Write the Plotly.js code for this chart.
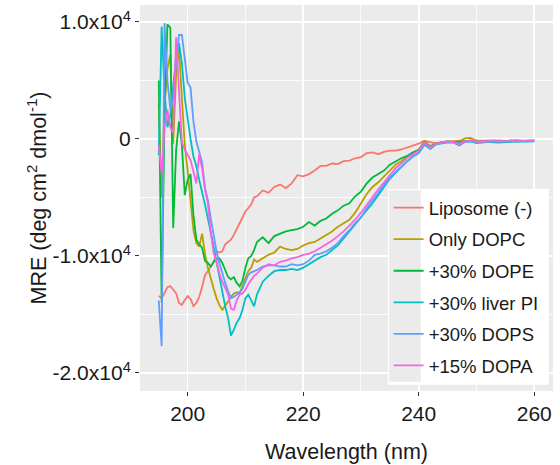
<!DOCTYPE html>
<html>
<head>
<meta charset="utf-8">
<script src="https://cdn.plot.ly/plotly-3.0.1.min.js"></script>
<style>
  html, body { margin: 0; padding: 0; background: #ffffff; }
  #chart { width: 560px; height: 465px; }
</style>
</head>
<body>
<div id="chart"></div>
<script>
// CD spectra: mean residue ellipticity vs wavelength for each liposome condition
const wavelength = [
  195, 195.5, 196, 196.5, 197, 197.5, 198, 198.5, 199, 199.5,
  200, 200.5, 201, 201.5, 202, 202.5, 203, 203.5, 204, 204.5,
  205, 205.5, 206, 206.5, 207, 207.5, 208, 208.5, 209, 209.5,
  210, 210.5, 211, 211.5, 212,
  213, 214, 215, 216, 217, 218, 219, 220, 221, 222,
  223, 224, 225, 226, 227, 228, 229, 230, 231, 232,
  233, 234, 235, 236, 237, 238, 239, 240, 241, 242,
  243, 244, 245,
  246, 247, 248, 249, 250, 251, 252, 253, 254, 255, 256, 257, 258, 259, 260
];

const seriesNames = ['Liposome (-)', 'Only DOPC', '+30% DOPE', '+30% liver PI', '+30% DOPS', '+15% DOPA'];
const seriesColors = ['#F8766D', '#B79F00', '#00BA38', '#00BFC4', '#619CFF', '#F564E3'];

const liposomeNone = [
  -13430, -13600, -13170, -12660, -12570, -12920, -13170, -14020, -14190, -13770,
  -13430, -13680, -14280, -14020, -13510, -12660, -11640, -11300, -10960, -10530,
  -9600, -9700, -9600, -9000, -8800, -8600, -8200, -7700, -7100, -6600,
  -6200, -5900, -5600, -5000, -4900,
  -4400, -4600, -4100, -3900, -4200, -3800, -3100, -3200, -3000, -2700,
  -2300, -2300, -2100, -2150, -1900, -1850, -1650, -1550, -1200, -1150,
  -1300, -1100, -1000, -1000, -900, -750, -550, -400, -150, -250,
  -400, -300, -250,
  -200, -150, -180, -120, -150, -130, -170, -140, -120, -160, -130, -110, -140, -120, -130
];

const onlyDOPC = [
  3000, -5000, 3000, 6000, 7200, -400, 5500, 7800, 3500, -500,
  -2700, -5000, -7800, -8900, -9200, -8100, -9800, -11000, -12000, -12800,
  -13600, -14200, -14600, -14300, -13900, -13500, -13200, -13100, -13200, -12500,
  -11900, -11300, -11000, -10300, -10500,
  -10200, -9900, -9700, -9200, -9400, -9500, -9400, -9100, -8900, -8800,
  -8500, -8200, -7900, -7500, -7200, -6900, -6300, -5500, -4700, -4100,
  -3700, -3200, -2700, -2200, -1900, -1500, -1200, -900, -200, -600,
  -350, -250, -200,
  -250, -200, 50, 100, -150, -200, -180, -150, -200, -170, -150, -180, -160, -150, -140
];

const dope30 = [
  5000, -14000, 2000, 9800, 9500, -7600, -1000, 1500, -500, -4800,
  -3500, -3000, -6500, -8600, -9000, -9300, -10400, -10600, -10900, -10500,
  -10300, -10200, -10600, -11200, -11800, -12000, -11800, -12300, -12600, -12100,
  -11000, -10200, -10000, -9500, -8800,
  -8400, -8900, -8300, -8100, -7900, -7800, -7700, -7500, -7100, -7400,
  -7000, -6800, -6400, -6100, -5700, -5500, -4900, -4500, -3800, -3300,
  -3000, -2700, -2200, -1900, -1650, -1450, -1150, -950, -300, -650,
  -400, -300, -200,
  -250, -300, -200, -150, -250, -280, -220, -200, -250, -230, -200, -210, -180, -190, -170
];

const liverPI30 = [
  -1400, 9600, 4000, 1000, 2000, 4500, 7000, 8200, 6500, 3500,
  1500, 0, -1500, -2300, -3500, -4500, -5600, -6800, -7900, -9200,
  -10500, -11800, -13200, -14300, -15300, -16800, -16300, -15700, -15300, -14600,
  -13600, -13300, -13800, -14300, -13300,
  -12200, -11700, -11300, -11200, -11200, -11100, -11200, -11000, -10700, -10400,
  -10100, -9900, -9500, -9100, -8500, -7900, -7300, -6800, -6100, -5500,
  -4800, -4100, -3400, -2900, -2400, -1900, -1500, -1200, -500, -850,
  -450, -350, -300,
  -300, -550, -250, -200, -350, -300, -250, -280, -320, -260, -230, -250, -200, -220, -200
];

const dops30 = [
  -13800, -17700, 9900, 5000, 2500, 3500, 6500, 8900, 8900, 6800,
  4800, 4400, 1500, -200, -1000, -2000, -4200, -5200, -6800, -8200,
  -9600, -10600, -11500, -12300, -13000, -13600, -13500, -13300, -13100, -12800,
  -12200, -11600, -11400, -11300, -11200,
  -10900, -10800, -10800, -10900, -10900, -10700, -10800, -10700, -10400, -9900,
  -9800, -9600, -9300, -8900, -8300, -7800, -7200, -6700, -5900, -5300,
  -4600, -3900, -3300, -2800, -2400, -1900, -1500, -1200, -400, -800,
  -450, -350, -250,
  -250, -400, -200, -180, -220, -260, -200, -180, -240, -200, -150, -200, -160, -150, -140
];

const dopa15 = [
  -500, -3000, 1000, 2500, 1000, 500, 8700, 4000, -300, -900,
  -1300, -1800, -2800, -3800, -1300, -2500, -4300, -5500, -8000, -9700,
  -10500, -11500, -12200, -12700, -13300, -14500, -14600, -13800, -13300, -13200,
  -12900, -12400, -12000, -11700, -11500,
  -11000, -10700, -10800, -10500, -10400, -10200, -10100, -9900, -9800, -9600,
  -9300, -9000, -8700, -8300, -7900, -7400, -6900, -6300, -5600, -4900,
  -4300, -3700, -3100, -2500, -2100, -1600, -1300, -1000, -300, -700,
  -400, -300, -200,
  -280, -500, -220, -150, -250, -200, -230, -150, -200, -160, -180, -140, -160, -140, -150
];

const seriesValues = [liposomeNone, onlyDOPC, dope30, liverPI30, dops30, dopa15];

const xTicks = [200, 220, 240, 260];
const yTicks = [-20000, -10000, 0, 10000];
const yTickText = ['-2.0x10<sup>4</sup>', '-1.0x10<sup>4</sup>', '0', '1.0x10<sup>4</sup>'];

const FONT = 'Liberation Sans, Arial, Helvetica, sans-serif';

const traces = seriesNames.map((name, i) => ({
  type: 'scatter',
  mode: 'lines',
  name: name,
  legendgroup: 'g' + i,
  x: wavelength,
  y: seriesValues[i],
  line: { color: seriesColors[i], width: 1.8 },
  hoverinfo: 'skip'
}));

// ggplot-like legend panel: white box with a grey key column
const shapes = [
  { type: 'rect', xref: 'paper', yref: 'paper', layer: 'above',
    x0: 0.600, x1: 0.990, y0: 0.016, y1: 0.523,
    fillcolor: '#FFFFFF', line: { width: 0 } },
  { type: 'rect', xref: 'paper', yref: 'paper', layer: 'above',
    x0: 0.603, x1: 0.680, y0: 0.024, y1: 0.520,
    fillcolor: '#EBEBEB', line: { width: 0 } }
];

const layout = {
  width: 560,
  height: 465,
  margin: { l: 140, r: 7, t: 5, b: 74 },
  paper_bgcolor: '#FFFFFF',
  plot_bgcolor: '#EBEBEB',
  font: { family: FONT, color: '#1A1A1A' },
  showlegend: true,
  legend: {
    x: 0.602, y: 0.523, xanchor: 'left', yanchor: 'top',
    bgcolor: 'rgba(0,0,0,0)',
    borderwidth: 0,
    font: { family: FONT, size: 18.5, color: '#1A1A1A' },
    tracegroupgap: 4.5,
    traceorder: 'grouped'
  },
  xaxis: {
    range: [191.75, 263.25],
    tickvals: xTicks,
    ticks: 'outside', ticklen: 4, tickwidth: 1, tickcolor: '#333333',
    tickfont: { family: FONT, size: 21, color: '#1A1A1A' },
    showgrid: true, gridcolor: '#FFFFFF', gridwidth: 1.6,
    minor: { tick0: 190, dtick: 10, showgrid: true, gridcolor: '#FFFFFF', gridwidth: 0.8, ticks: '' },
    zeroline: false, showline: false, automargin: true,
    title: { text: 'Wavelength (nm)', font: { family: FONT, size: 21.5, color: '#1A1A1A' }, standoff: 19 }
  },
  yaxis: {
    range: [-21540, 11450],
    tickvals: yTicks,
    ticktext: yTickText,
    ticks: 'outside', ticklen: 4, tickwidth: 1, tickcolor: '#333333',
    tickfont: { family: FONT, size: 21, color: '#1A1A1A' },
    showgrid: true, gridcolor: '#FFFFFF', gridwidth: 1.6,
    minor: { tick0: 0, dtick: 5000, showgrid: true, gridcolor: '#FFFFFF', gridwidth: 0.8, ticks: '' },
    zeroline: false, showline: false, automargin: true,
    title: { text: 'MRE (deg cm<sup>2</sup> dmol<sup>-1</sup>)', font: { family: FONT, size: 21.5, color: '#1A1A1A' }, standoff: 0 }
  },
  shapes: shapes
};

Plotly.newPlot('chart', traces, layout, { staticPlot: true, displayModeBar: false });
</script>
</body>
</html>
